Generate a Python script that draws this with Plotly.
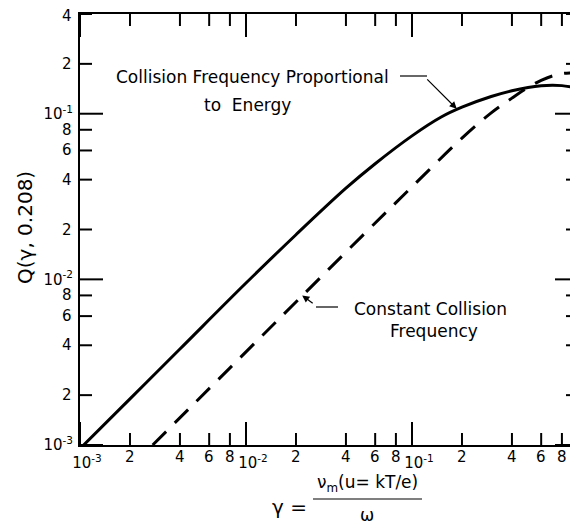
import numpy as np
import plotly.graph_objects as go

# ---- data ----
gamma_energy = [0.001, 0.002, 0.004, 0.01, 0.02, 0.04, 0.06, 0.1, 0.15, 0.2, 0.3, 0.4, 0.5, 0.6, 0.7, 0.8, 1.0]
q_energy = [0.00095, 0.0019, 0.0038, 0.0095, 0.0186, 0.0355, 0.0499, 0.0735, 0.0955, 0.1095, 0.127, 0.1375,
            0.1440, 0.1475, 0.1485, 0.1478, 0.143]

gamma_const = [0.00274, 0.005, 0.01, 0.02, 0.05, 0.1, 0.2, 0.3, 0.4, 0.5, 0.6, 0.7, 0.8, 0.9, 1.0]
q_const = [0.001, 0.001825, 0.00365, 0.0073, 0.01825, 0.0362, 0.0712, 0.1012, 0.1242, 0.1440, 0.159, 0.169,
           0.1745, 0.1765, 0.177]

x_major = [1e-3, 1e-2, 1e-1]
x_major_text = ["10<sup>-3</sup>", "10<sup>-2</sup>", "10<sup>-1</sup>"]
x_minor = [2e-3, 4e-3, 6e-3, 8e-3, 2e-2, 4e-2, 6e-2, 8e-2, 2e-1, 4e-1, 6e-1, 8e-1]
x_minor_text = ["2", "4", "6", "8", "2", "4", "6", "8", "2", "4", "6", "8"]
y_major = [1e-3, 1e-2, 1e-1]
y_major_text = ["10<sup>-3</sup>", "10<sup>-2</sup>", "10<sup>-1</sup>"]
y_minor = [2e-3, 4e-3, 6e-3, 8e-3, 2e-2, 4e-2, 6e-2, 8e-2, 2e-1, 4e-1]
y_minor_text = ["2", "4", "6", "8", "2", "4", "6", "8", "2", "4"]

# The page body has an 8 px margin, so the figure is drawn 8 px in from the top-left corner.
OFF = 8
W, H = 578 - OFF, 529 - OFF
L, R, T, B = 80 - OFF, 0, 14 - OFF, 84
pw, ph = W - L - R, H - T - B

def px(xs):  # screen x -> paper
    return (xs - (L + OFF)) / pw

def py(ys):  # screen y -> paper
    return (T + OFF + ph - ys) / ph

FONT = "DejaVu Sans"
xr = [np.log10(1e-3), np.log10(1.0)]
yr = [np.log10(1e-3), np.log10(0.4)]

def xfrac(v):
    return (np.log10(v) - xr[0]) / (xr[1] - xr[0])

def yfrac(v):
    return (np.log10(v) - yr[0]) / (yr[1] - yr[0])

fig = go.Figure()
fig.add_trace(go.Scatter(x=gamma_energy, y=q_energy, mode="lines",
                         line=dict(color="black", width=3, shape="spline", smoothing=1),
                         showlegend=False, hoverinfo="skip"))
fig.add_trace(go.Scatter(x=gamma_const, y=q_const, mode="lines",
                         line=dict(color="black", width=3, dash="19px,12px", shape="spline", smoothing=1),
                         showlegend=False, hoverinfo="skip"))

tickfont = dict(family=FONT, size=15, color="black")
common = dict(type="log", showgrid=False, zeroline=False, ticks="", automargin=False, tickfont=tickfont,
              tickangle=0, tickmode="array", showline=True, linecolor="black", linewidth=2)

fig.update_layout(
    width=W, height=H, margin=dict(l=L, r=R, t=T, b=B, autoexpand=False),
    paper_bgcolor="white", plot_bgcolor="white",
    font=dict(family=FONT, color="black"),
    xaxis=dict(**common, range=xr, tickvals=x_major, ticktext=x_major_text, ticklabelshift=7,
               ticklabelstandoff=3, mirror=True),
    yaxis=dict(**common, range=yr, tickvals=y_major, ticktext=y_major_text, ticklabelstandoff=2, mirror=False),
)

# ---- tick marks (inside, on all four sides), built from the tick lists ----
shapes = []
tick_line = dict(color="black", width=2)
for vals, ln in ((x_major, 23), (x_minor, 12)):
    for v in vals:
        f = xfrac(v)
        shapes.append(dict(type="line", xref="x domain", yref="paper", ysizemode="pixel", yanchor=0,
                           x0=f, x1=f, y0=0, y1=ln, line=tick_line))
        shapes.append(dict(type="line", xref="x domain", yref="paper", ysizemode="pixel", yanchor=1,
                           x0=f, x1=f, y0=0, y1=-ln, line=tick_line))
for vals, ln in ((y_major, 23), (y_minor, 12)):
    for v in vals:
        f = yfrac(v)
        shapes.append(dict(type="line", xref="paper", yref="y domain", xsizemode="pixel", xanchor=0,
                           y0=f, y1=f, x0=0, x1=ln, line=tick_line))
        shapes.append(dict(type="line", xref="paper", yref="y domain", xsizemode="pixel", xanchor=1,
                           y0=f, y1=f, x0=0, x1=-ln, line=tick_line))

# leader lines and fraction bar
shapes += [
    dict(type="line", xref="paper", yref="paper", x0=px(400), y0=py(76), x1=px(427), y1=py(76),
         line=dict(color="black", width=1.2)),
    dict(type="line", xref="paper", yref="paper", x0=px(338), y0=py(307), x1=px(316), y1=py(307),
         line=dict(color="black", width=1.2)),
    dict(type="line", xref="paper", yref="paper", x0=px(313), y0=py(499), x1=px(422), y1=py(499),
         line=dict(color="black", width=1.2)),
]
fig.update_layout(shapes=shapes)

ann = []
# minor tick labels (taken from the tick lists)
for v, t in zip(x_minor, x_minor_text):
    ann.append(dict(xref="x", yref="paper", x=np.log10(v), y=py(457), text=t, showarrow=False,
                    font=tickfont, xanchor="center", yanchor="middle", borderpad=0))
for v, t in zip(y_minor, y_minor_text):
    ann.append(dict(xref="paper", yref="y", x=px(73), y=np.log10(v), text=t, showarrow=False,
                    font=tickfont, xanchor="right", yanchor="middle", borderpad=0,
                    yshift=-2 if v == y_minor[-1] else 0))

labfont = dict(family=FONT, size=17, color="black")
ann.append(dict(xref="paper", yref="paper", x=px(252), y=py(77), text="Collision Frequency Proportional",
                showarrow=False, font=labfont, xanchor="center", yanchor="middle"))
ann.append(dict(xref="paper", yref="paper", x=px(247), y=py(105), text="to  Energy",
                showarrow=False, font=labfont, xanchor="center", yanchor="middle"))
ann.append(dict(xref="paper", yref="paper", x=px(430), y=py(309), text="Constant Collision",
                showarrow=False, font=labfont, xanchor="center", yanchor="middle"))
ann.append(dict(xref="paper", yref="paper", x=px(434), y=py(331), text="Frequency",
                showarrow=False, font=labfont, xanchor="center", yanchor="middle"))
# arrows
ann.append(dict(xref="x", yref="y", x=np.log10(0.186), y=np.log10(0.107), text="", showarrow=True,
                ax=-31, ay=-31, arrowhead=2, arrowsize=1.2, arrowwidth=1.2, arrowcolor="black"))
ann.append(dict(xref="x", yref="y", x=np.log10(0.0218), y=np.log10(0.0080), text="", showarrow=True,
                ax=12, ay=9, arrowhead=2, arrowsize=1.2, arrowwidth=1.2, arrowcolor="black"))
# axis titles
ann.append(dict(xref="paper", yref="paper", x=px(25), y=py(228), text="Q(γ, 0.208)", textangle=-90,
                showarrow=False, font=dict(family=FONT, size=20, color="black"), xanchor="center", yanchor="middle"))
ann.append(dict(xref="paper", yref="paper", x=px(309), y=py(507), text="γ =",
                showarrow=False, font=dict(family=FONT, size=20, color="black"), xanchor="right", yanchor="middle"))
ann.append(dict(xref="paper", yref="paper", x=px(367), y=py(483), text="ν<sub>m</sub>(u= kT/e)",
                showarrow=False, font=dict(family=FONT, size=17, color="black"), xanchor="center", yanchor="middle",
                borderpad=0))
ann.append(dict(xref="paper", yref="paper", x=px(367), y=py(515), text="ω",
                showarrow=False, font=dict(family=FONT, size=17, color="black"), xanchor="center", yanchor="middle"))
fig.update_layout(annotations=ann)

fig.write_html("out.html")
